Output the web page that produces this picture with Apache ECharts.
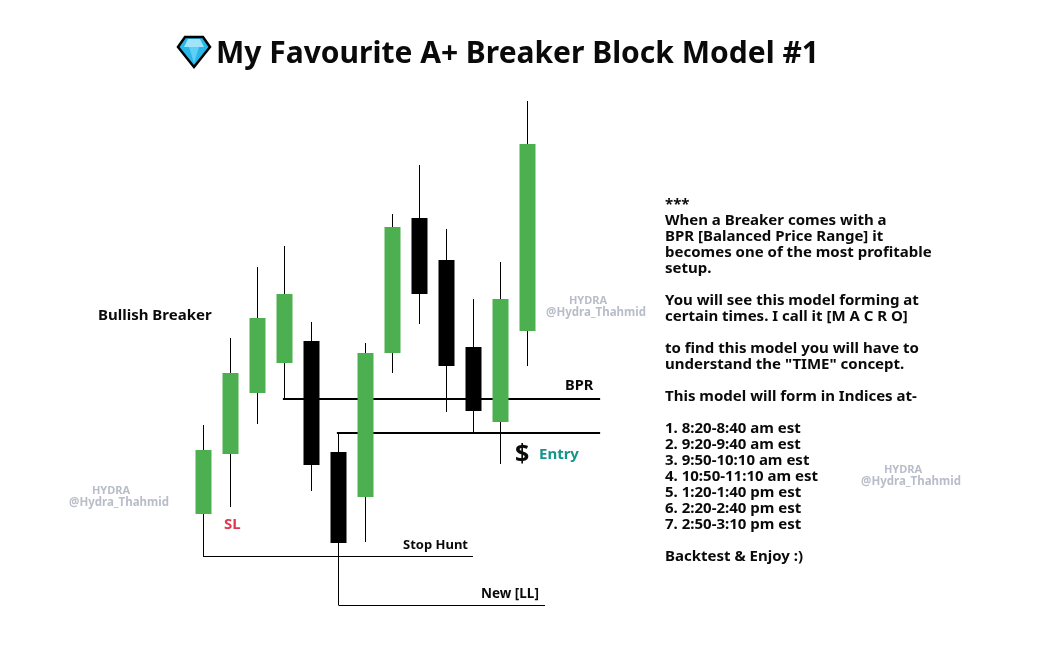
<!DOCTYPE html>
<html><head><meta charset="utf-8">
<style>html,body{margin:0;padding:0;background:#fff}#c{width:1045px;height:653px}</style>
<script src="https://cdn.jsdelivr.net/npm/echarts@6/dist/echarts.min.js"></script>
</head><body><div id="c"></div>
<script>
// Price scale: reference height units (higher = higher price)
const categories = ['1','2','3','4','5','6','7','8','9','10','11','12','13','','',''];
const opens  = [139,199,260,290,312,201,156,300,435,393,306,231,322];
const closes = [203,280,335,359,188,110,300,426,359,287,242,354,509];
const highs  = [228,315,386,407,331,220,310,439,488,424,354,391,552];
const lows   = [96,146,229,254,162,48,111,280,329,241,220,189,287];
const bullish = closes.map((c,i)=>c>opens[i]);
const bprLine = [[2.94,254],[14.69,254]];
const entryLine = [[4.94,220],[14.69,220]];
const stopHuntLine = [[0,96.5],[9.98,96.5]];
const newLowLine = [[5,47.5],[12.65,47.5]];
const titleText = 'My Favourite A+ Breaker Block Model #1';
const noteLines = ['***','When a Breaker comes with a','BPR [Balanced Price Range] it','becomes one of the most profitable','setup.','','You will see this model forming at','certain times. I call it [M A C R O]','','to find this model you will have to','understand the "TIME" concept.','','This model will form in Indices at-','','1. 8:20-8:40 am est','2. 9:20-9:40 am est','3. 9:50-10:10 am est','4. 10:50-11:10 am est','5. 1:20-1:40 pm est','6. 2:20-2:40 pm est','7. 2:50-3:10 pm est','','Backtest & Enjoy :)'];
const watermarkName = 'HYDRA';
const watermarkHandle = '@Hydra_Thahmid';

const FONT='"Noto Sans"';
const GREEN='#4caf50';
const chart=echarts.init(document.getElementById('c'),null,{renderer:'canvas'});
const txt=(x,y,text,size,fill,extra)=>({type:'text',x,y,silent:true,style:Object.assign({text,fill,font:`700 ${size}px ${FONT}`,textVerticalAlign:'middle'},extra||{})});
const wm=(x,y)=>[txt(x-8,y-6,watermarkName,11,'#b9bdc9',{textAlign:'center'}),txt(x,y+6,watermarkHandle,11.5,'#b9bdc9',{textAlign:'center'})];
const hline=(data,w)=>({type:'line',xAxisIndex:1,data,symbol:'none',silent:true,lineStyle:{color:'#000',width:w},z:1});
chart.setOption({
  animation:false,backgroundColor:'#fff',
  grid:{left:190,right:423,top:0,bottom:0},
  xAxis:[{type:'category',data:categories,show:false},{type:'value',min:-0.5,max:15.5,show:false}],
  yAxis:{type:'value',min:0,max:653,show:false},
  series:[
    hline(bprLine,2),hline(entryLine,2),hline(stopHuntLine,1),hline(newLowLine,1),
    {type:'candlestick',barWidth:1,silent:true,z:2,
     itemStyle:{color:'#000',color0:'#000',borderColor:'#000',borderColor0:'#000',borderWidth:1},
     data:opens.map((o,i)=>[o,closes[i],lows[i],highs[i]])},
    {type:'candlestick',barWidth:17,silent:true,z:3,
     itemStyle:{color:GREEN,color0:'#000',borderWidth:0},
     data:opens.map((o,i)=>{const a=bullish[i]?o:closes[i],b=bullish[i]?closes[i]:o;return [o,closes[i],a,b];})}
  ],
  graphic:[
    {type:'polygon',silent:true,shape:{points:[[185,37],[203,37],[210,47],[194,67],[178,47]]},style:{fill:'#29b6e8',stroke:'#000',lineWidth:2.5}},
    {type:'polygon',silent:true,shape:{points:[[188,39],[200,39],[204,47],[184,47]]},style:{fill:'#9fe4fb'}},
    {type:'polygon',silent:true,shape:{points:[[189,47],[199,47],[194,63]]},style:{fill:'#5fd0f5'}},
    txt(216,54,titleText,30,'#0a0a0a'),
    txt(665,205+176,noteLines.join('\n'),15,'#0a0a0a',{lineHeight:16}),
    txt(98,316,'Bullish Breaker',15,'#0a0a0a'),
    txt(224,525,'SL',15,'#e2364f'),
    txt(565,386,'BPR',14.6,'#0a0a0a'),
    txt(403,545,'Stop Hunt',13,'#0a0a0a'),
    txt(481,594,'New [LL]',13.5,'#0a0a0a'),
    txt(515,455,'$',25,'#0a0a0a'),
    txt(539,455,'Entry',15,'#12958a'),
    ...wm(119,497),...wm(596,307),...wm(911,476)
  ]
});
</script></body></html>
